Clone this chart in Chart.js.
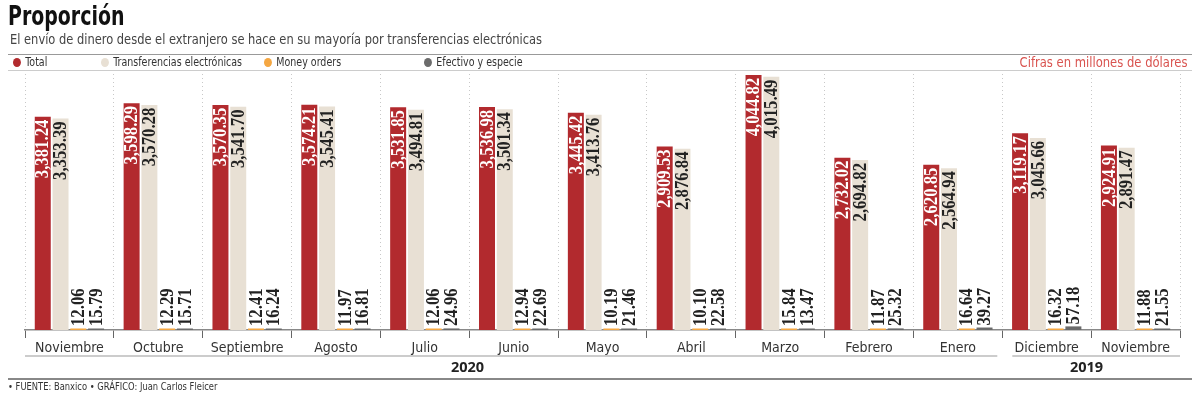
<!DOCTYPE html>
<html>
  <head>
    <meta charset="utf-8">
    <style type="text/css">
      body { margin: 0; background: #fff; }
      .wrap { position: relative; width: 1200px; height: 394px; overflow: hidden; font-family: 'DejaVu Sans Condensed', 'DejaVu Sans', sans-serif; }
      #chart { position: absolute; left: 0; top: 0; }
      .txt { position: absolute; white-space: nowrap; transform-origin: left top; }
      .title { left: 8px; top: 0px; font-size: 27px; font-weight: bold; color: #111; transform: scaleX(0.78); }
      .sub { left: 10px; top: 31px; font-size: 14px; color: #444; transform: scaleX(0.91); }
      .rule { position: absolute; height: 0; }
      .legend { top: 55px; font-size: 12px; color: #333; transform: scaleX(0.88); }
      .dot { display: inline-block; width: 9px; height: 9px; border-radius: 50%; margin-right: 5px; vertical-align: -1px; }
      .units { right: 12px; top: 54px; font-size: 14px; color: #d9534f; transform-origin: right top; transform: scaleX(0.92); }
      .year { top: 357px; font-family: 'Open Sans', sans-serif; font-weight: bold; font-size: 14.5px; color: #222; }
      .foot { left: 8px; top: 380px; font-size: 10.5px; color: #333; transform: scaleX(0.885); }
    </style>
  </head>
  <body>
    <script src="https://cdn.jsdelivr.net/npm/chart.js@4.4.0/dist/chart.umd.min.js"></script>

    <div class="wrap">
      <canvas id="chart" width="1200" height="394"></canvas>
      <div class="txt title">Proporción</div>
      <div class="txt sub">El envío de dinero desde el extranjero se hace en su mayoría por transferencias electrónicas</div>
      <div class="rule" style="left:8px; top:54px; width:1184px; border-top:1px solid #999;"></div>
      <div class="rule" style="left:8px; top:70px; width:1184px; border-top:1px solid #ccc;"></div>
      <div class="txt legend" style="left:13px;"><span class="dot" style="background:#b22a2e"></span>Total</div>
      <div class="txt legend" style="left:101px;"><span class="dot" style="background:#e8e0d4"></span>Transferencias electrónicas</div>
      <div class="txt legend" style="left:264px;"><span class="dot" style="background:#f5a742"></span>Money orders</div>
      <div class="txt legend" style="left:424px;"><span class="dot" style="background:#6b6b6b"></span>Efectivo y especie</div>
      <div class="txt units">Cifras en millones de dólares</div>
      <div class="txt year" style="left:451px;">2020</div>
      <div class="txt year" style="left:1070px;">2019</div>
      <div class="rule" style="left:8px; top:378px; width:1184px; border-top:2px solid #888;"></div>
      <div class="txt foot">• FUENTE: Banxico • GRÁFICO: Juan Carlos Fleicer</div>
    </div>

    <script>
      /* datas */
      const months = ['Noviembre', 'Octubre', 'Septiembre', 'Agosto', 'Julio', 'Junio', 'Mayo',
        'Abril', 'Marzo', 'Febrero', 'Enero', 'Diciembre', 'Noviembre'];
      const total = [3381.24, 3598.29, 3570.35, 3574.21, 3531.85, 3536.98, 3445.42,
        2909.53, 4044.82, 2732.02, 2620.85, 3119.17, 2924.91];
      const transferencias = [3353.39, 3570.28, 3541.70, 3545.41, 3494.81, 3501.34, 3413.76,
        2876.84, 4015.49, 2694.82, 2564.94, 3045.66, 2891.47];
      const moneyOrders = [12.06, 12.29, 12.41, 11.97, 12.06, 12.94, 10.19,
        10.10, 15.84, 11.87, 16.64, 16.32, 11.88];
      const efectivo = [15.79, 15.71, 16.24, 16.81, 24.96, 22.69, 21.46,
        22.58, 13.47, 25.32, 39.27, 57.18, 21.55];
      // year groups: [first index, last index, label]
      const years = [[0, 10, '2020'], [11, 12, '2019']];

      const fmt = v => v.toLocaleString('en-US', {minimumFractionDigits: 2, maximumFractionDigits: 2});

      // vertical value labels + month underlines
      const extras = {
        id: 'extras',
        afterDatasetsDraw(chart) {
          const ctx = chart.ctx;
          ctx.save();
          ctx.font = 'bold 18px "Liberation Serif", serif';
          ctx.textBaseline = 'middle';
          chart.data.datasets.forEach((ds, di) => {
            const meta = chart.getDatasetMeta(di);
            meta.data.forEach((bar, i) => {
              const txt = fmt(ds.data[i]);
              ctx.save();
              if (di < 2) {
                ctx.translate(bar.x, bar.y);
                ctx.rotate(-Math.PI / 2);
                ctx.scale(0.93, 1);
                ctx.textAlign = 'right';
                ctx.fillStyle = di === 0 ? '#fff' : '#222';
                ctx.fillText(txt, -3, 1);
              } else {
                ctx.translate(bar.x, Math.min(bar.y, bar.base - 2) - 2);
                ctx.rotate(-Math.PI / 2);
                ctx.scale(0.93, 1);
                ctx.textAlign = 'left';
                ctx.fillStyle = '#222';
                ctx.fillText(txt, 0, 1);
              }
              ctx.restore();
            });
          });
          // underline under month names per year
          const x = chart.scales.x;
          ctx.strokeStyle = '#bbb';
          ctx.lineWidth = 1.5;
          years.forEach(([a, b]) => {
            const half = (x.getPixelForValue(1) - x.getPixelForValue(0)) / 2;
            const x0 = a === 0 ? chart.chartArea.left : x.getPixelForValue(a) - half + 10;
            const x1 = b === months.length - 1 ? chart.chartArea.right : x.getPixelForValue(b) + half - 5;
            ctx.beginPath();
            ctx.moveTo(x0, 356);
            ctx.lineTo(x1, 356);
            ctx.stroke();
          });
          ctx.restore();
        }
      };

      const chart = new Chart('chart', {
        type: 'bar',
        data: {
          labels: months,
          datasets: [
            {label: 'Total', data: total, backgroundColor: '#b22a2e'},
            {label: 'Transferencias electrónicas', data: transferencias, backgroundColor: '#e8e0d4'},
            {label: 'Money orders', data: moneyOrders, backgroundColor: '#f5a742', minBarLength: 1.5},
            {label: 'Efectivo y especie', data: efectivo, backgroundColor: '#6b6b6b', minBarLength: 1.5}
          ]
        },
        options: {
          responsive: false,
          animation: false,
          layout: {padding: {left: 25, right: 20, top: 70, bottom: 0}},
          datasets: {bar: {categoryPercentage: 0.8, barPercentage: 0.9}},
          plugins: {legend: {display: false}, tooltip: {enabled: false}},
          scales: {
            y: {display: false, min: 0, max: 4124},
            x: {
              afterFit(s) { s.height = 64; },
              grid: {
                offset: true,
                color: '#c8c8c8',
                tickColor: '#666',
                tickLength: 8,
                tickWidth: 1
              },
              border: {color: '#888', width: 1.5, dash: [1, 3]},
              ticks: {
                color: '#333',
                padding: 2,
                maxRotation: 0,
                autoSkip: false,
                font: {family: "'DejaVu Sans Condensed', 'DejaVu Sans', sans-serif", size: 14}
              }
            }
          }
        },
        plugins: [extras]
      });
    </script>
  </body>
</html>
